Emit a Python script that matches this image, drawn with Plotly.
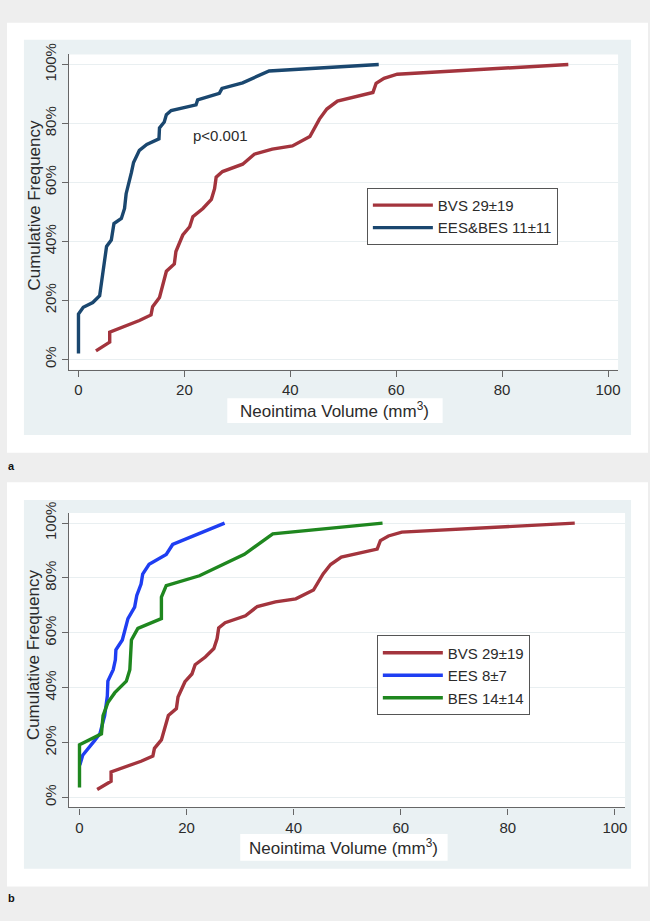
import plotly.graph_objects as go

W, H = 650, 921

# ---------------- data ----------------
bvs_x = [3.3, 5.9, 5.9, 9.0, 11.5, 13.7, 14.0, 15.3, 16.6, 18.1, 18.4, 19.7, 21.0, 21.6,
         23.5, 25.1, 25.7, 26.0, 27.2, 31.0, 33.2, 36.6, 40.4, 43.7, 45.5, 46.9, 48.9,
         55.6, 56.2, 57.7, 60.2, 92.5]
bvs_y = [2.9, 5.9, 9.3, 11.5, 13.2, 15.1, 17.9, 21.0, 29.9, 32.4, 36.6, 42.2, 45.0, 48.4,
         51.2, 54.3, 57.9, 61.8, 63.7, 66.2, 69.6, 71.3, 72.4, 75.6, 81.5, 84.9, 87.6,
         90.5, 93.6, 95.3, 96.7, 100.0]

ees_bes_x = [0.0, 0.0, 0.9, 2.7, 4.0, 4.3, 4.6, 5.1, 5.3, 6.2, 6.7, 8.1, 8.7, 9.0, 9.5,
             10.0, 10.4, 11.5, 12.9, 15.2, 15.3, 16.2, 16.6, 17.5, 22.2, 22.5, 26.6, 27.1,
             31.0, 36.0, 56.7]
ees_bes_y = [2.0, 15.4, 17.7, 19.3, 21.6, 25.5, 29.4, 35.0, 38.3, 40.5, 46.1, 47.8, 51.2,
             56.2, 59.5, 63.4, 66.8, 70.9, 72.9, 74.8, 78.5, 80.5, 83.0, 84.4, 86.3, 88.0,
             90.2, 91.9, 93.8, 97.8, 100.0]

ees_x = [0.06, 0.6, 2.85, 3.8, 4.7, 5.2, 5.3, 6.3, 6.7, 6.8, 8.0, 9.05, 10.3, 10.7, 11.5,
         11.8, 13.0, 16.2, 17.4, 27.1]
ees_y = [11.8, 15.4, 20.8, 23.2, 29.8, 37.0, 42.4, 46.6, 50.2, 53.8, 57.4, 65.2, 69.4,
         73.6, 77.8, 81.4, 85.0, 88.6, 92.2, 100.0]

bes_x = [0.0, 0.0, 4.1, 4.4, 5.3, 6.6, 8.75, 9.4, 9.7, 10.9, 15.3, 15.3, 16.2, 22.4,
         30.8, 36.1, 56.6]
bes_y = [3.6, 19.2, 23.2, 29.8, 34.6, 38.2, 42.4, 46.6, 57.4, 61.6, 65.2, 73.0, 77.2,
         80.8, 88.6, 96.1, 100.0]

y_ticks = [0, 20, 40, 60, 80, 100]
y_tick_labels = ["0%", "20%", "40%", "60%", "80%", "100%"]
x_ticks = [0, 20, 40, 60, 80, 100]

names_a = ["BVS 29±19", "EES&BES 11±11"]
names_b = ["BVS 29±19", "EES 8±7", "BES 14±14"]

# ---------------- styling ----------------
FONT = "Liberation Sans, Arial, Helvetica, sans-serif"
TXT = "#2b2b2b"
MAROON = "#a3343d"
NAVY = "#1a476f"
BLUE = "#1f3ef2"
GREEN = "#1f871f"
REGION = "#eaf1f3"
OUTER = "#eeeeee"
LW = 3.4


def px(x):
    return x / W


def py(y):
    return 1 - y / H


fig = go.Figure()

fig.add_trace(go.Scatter(x=bvs_x, y=bvs_y, name=names_a[0], xaxis="x", yaxis="y",
                         legend="legend", line=dict(color=MAROON, width=LW), mode="lines"))
fig.add_trace(go.Scatter(x=ees_bes_x, y=ees_bes_y, name=names_a[1], xaxis="x", yaxis="y",
                         legend="legend", line=dict(color=NAVY, width=LW), mode="lines"))
fig.add_trace(go.Scatter(x=bvs_x, y=bvs_y, name=names_b[0], xaxis="x2", yaxis="y2",
                         legend="legend2", line=dict(color=MAROON, width=LW), mode="lines"))
fig.add_trace(go.Scatter(x=ees_x, y=ees_y, name=names_b[1], xaxis="x2", yaxis="y2",
                         legend="legend2", line=dict(color=BLUE, width=LW), mode="lines"))
fig.add_trace(go.Scatter(x=bes_x, y=bes_y, name=names_b[2], xaxis="x2", yaxis="y2",
                         legend="legend2", line=dict(color=GREEN, width=LW), mode="lines"))

xaxis_common = dict(
    tickmode="array", tickvals=x_ticks, showgrid=False, zeroline=False,
    showline=True, linecolor="#666666", linewidth=1.3,
    ticks="outside", ticklen=6, tickwidth=1.2, tickcolor="#666666",
    tickfont=dict(family=FONT, size=15, color=TXT),
)
yaxis_common = dict(
    tickmode="array", tickvals=y_ticks, ticktext=y_tick_labels, tickangle=-90,
    showgrid=True, gridcolor="#e9eff1", gridwidth=1, zeroline=False,
    showline=True, linecolor="#666666", linewidth=1.3,
    ticks="outside", ticklen=6, tickwidth=1.2, tickcolor="#666666",
    tickfont=dict(family=FONT, size=15, color=TXT),
)

shapes = []


def rect(x0, y0, x1, y1, color):
    shapes.append(dict(type="rect", xref="paper", yref="paper", layer="below",
                       x0=px(x0), x1=px(x1), y0=py(y1), y1=py(y0), fillcolor=color,
                       line=dict(width=0)))


# panel a
rect(7, 12, 650, 447, "white")
rect(24, 29, 633, 429, REGION)
rect(69, 44, 620, 363, "white")
rect(228, 392, 444, 417, "white")
# panel b
rect(7, 477, 650, 886, "white")
rect(24, 495, 633, 868, REGION)
rect(69, 508, 627, 806, "white")
rect(241, 833, 449, 860, "white")

annotations = [
    dict(text="Cumulative Frequency", x=px(35), y=py(196), textangle=-90),
    dict(text="Cumulative Frequency", x=px(33), y=py(651), textangle=-90),
    dict(text="Neointima Volume (mm<sup>3</sup>)", x=px(336), y=py(404)),
    dict(text="Neointima Volume (mm<sup>3</sup>)", x=px(345), y=py(846)),
    dict(text="p<0.001", x=px(221), y=py(126), font=dict(family=FONT, size=15, color=TXT)),
    dict(text="<b>a</b>", x=px(6), y=py(460), xanchor="left",
         font=dict(family=FONT, size=11, color="#111")),
    dict(text="<b>b</b>", x=px(6), y=py(898), xanchor="left",
         font=dict(family=FONT, size=11, color="#111")),
]
for a in annotations:
    a.setdefault("xref", "paper")
    a.setdefault("yref", "paper")
    a.setdefault("showarrow", False)
    a.setdefault("font", dict(family=FONT, size=17, color=TXT))
    a.setdefault("xanchor", "center")
    a.setdefault("yanchor", "middle")

legend_common = dict(
    xanchor="left", yanchor="top", bgcolor="white", bordercolor="#555555",
    borderwidth=1, font=dict(family=FONT, size=15, color=TXT),
    itemwidth=60, tracegroupgap=0, traceorder="normal",
    entrywidthmode="pixels",
)

fig.update_layout(
    width=W, height=H, autosize=False,
    margin=dict(l=0, r=0, t=0, b=0),
    paper_bgcolor=OUTER, plot_bgcolor="rgba(0,0,0,0)",
    showlegend=True,
    xaxis=dict(domain=[px(69), px(620)], range=[-1.83, 101.9], anchor="y", **xaxis_common),
    yaxis=dict(domain=[py(363), py(44)], range=[-3.45, 103.4], anchor="x", **yaxis_common),
    xaxis2=dict(domain=[px(69), px(627)], range=[-2.0, 101.9], anchor="y2", **xaxis_common),
    yaxis2=dict(domain=[py(806), py(508)], range=[-3.6, 103.7], anchor="x2", **yaxis_common),
    legend=dict(x=px(368), y=py(179), entrywidth=125, **legend_common),
    legend2=dict(x=px(378), y=py(632), entrywidth=85, **legend_common),
    shapes=shapes,
    annotations=annotations,
    font=dict(family=FONT, color=TXT),
)

fig.write_html("out.html")
